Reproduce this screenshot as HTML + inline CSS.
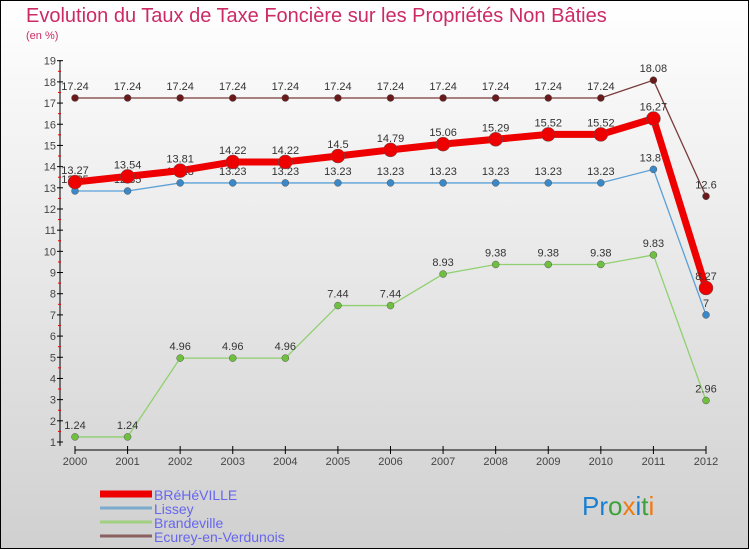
<!DOCTYPE html>
<html><head><meta charset="utf-8"><style>
body{margin:0;}
#c{width:750px;height:550px;position:relative;overflow:hidden;font-family:"Liberation Sans",sans-serif;}
</style></head><body>
<div id="c">
<svg id="s" width="750" height="550" xmlns="http://www.w3.org/2000/svg">
<defs><linearGradient id="bg" x1="0" y1="0" x2="0" y2="1"><stop offset="0" stop-color="#ffffff"/><stop offset="1" stop-color="#d0d0d0"/></linearGradient></defs>
<rect x="0.5" y="0.5" width="748" height="548" fill="url(#bg)" stroke="#000"/>
<text x="26" y="22" font-size="20" fill="#cc2a64">Evolution du Taux de Taxe Foncière sur les Propriétés Non Bâties</text>
<text x="26" y="39" font-size="11" fill="#cc2a64">(en %)</text>
<g id="axes"></g><g id="series"></g><g id="legend"></g>
<text x="582" y="515" font-size="26"><tspan fill="#1a7fd0">Pr</tspan><tspan fill="#3aa33a">o</tspan><tspan fill="#f07a10">x</tspan><tspan fill="#1a7fd0">i</tspan><tspan fill="#3aa33a">t</tspan><tspan fill="#f07a10">i</tspan></text>
</svg>
</div>
<script>
const years=[2000,2001,2002,2003,2004,2005,2006,2007,2008,2009,2010,2011,2012];
const yTicks=[1,2,3,4,5,6,7,8,9,10,11,12,13,14,15,16,17,18,19];
const seriesNames=["BRéHéVILLE","Lissey","Brandeville","Ecurey-en-Verdunois"];
const brehevilleVals=[13.27,13.54,13.81,14.22,14.22,14.5,14.79,15.06,15.29,15.52,15.52,16.27,8.27];
const lisseyVals=[12.85,12.85,13.23,13.23,13.23,13.23,13.23,13.23,13.23,13.23,13.23,13.87,7];
const brandevilleVals=[1.24,1.24,4.96,4.96,4.96,7.44,7.44,8.93,9.38,9.38,9.38,9.83,2.96];
const ecureyVals=[17.24,17.24,17.24,17.24,17.24,17.24,17.24,17.24,17.24,17.24,17.24,18.08,12.6];
const NS="http://www.w3.org/2000/svg";
const xS=i=>75+i*(706-75)/12;
const yS=v=>442-(v-1)*(442-60.7)/18;
function mk(t,a,p){const e=document.createElementNS(NS,t);for(const k in a)e.setAttribute(k,a[k]);p.appendChild(e);return e;}
const ax=document.getElementById('axes');
let l=mk('line',{x1:60,y1:60,x2:60,y2:446,stroke:'#000'},ax);


l=mk('line',{x1:75,y1:450,x2:706,y2:450,stroke:'#000'},ax);


yTicks.forEach(v=>{
 mk('line',{x1:57,x2:63,y1:yS(v),y2:yS(v),stroke:'#000'},ax);
 if(v<19)mk('line',{x1:58,x2:61,y1:yS(v+0.5),y2:yS(v+0.5),stroke:'#e00'},ax);
 const t=mk('text',{x:56,y:yS(v)+4,'font-size':11,'text-anchor':'end',fill:'#444'},ax);t.textContent=v;
 
 
});
years.forEach((y,i)=>{
 mk('line',{x1:xS(i),x2:xS(i),y1:446,y2:454,stroke:'#000'},ax);
 const t=mk('text',{x:xS(i),y:465,'font-size':11,'text-anchor':'middle',fill:'#444'},ax);t.textContent=y;
 
 
});
const sg=document.getElementById('series');
function draw(vals,color,w,r,name,dark){
 const g=mk('g',{},sg);
 
 
 const p=mk('polyline',{points:vals.map((v,i)=>xS(i)+','+yS(v)).join(' '),fill:'none',stroke:color,'stroke-width':w,'stroke-linejoin':'round'},g);
 
 
 vals.forEach((v,i)=>{
  const c=mk('circle',{cx:xS(i),cy:yS(v),r:r,fill:dark,stroke:'#555','stroke-width':0.5},g);
  
  
  const t=mk('text',{x:xS(i),y:yS(v)-8,'font-size':11,'text-anchor':'middle',fill:'#333'},g);t.textContent=v;
  
  
 });
}
draw(ecureyVals,'#7a3a3a',1.3,3.5,'ecurey','#6a1a1a');
draw(brandevilleVals,'#90d070',1.3,3.5,'brandeville','#70c040');
draw(lisseyVals,'#5aa0d8',1.3,3.5,'lissey','#3a88c8');
draw(brehevilleVals,'#ee0000',7,7,'breheville','#ee0000');
const lg=document.getElementById('legend');
const lcol=['#ee0000','#7aaacc','#a0d080','#8a6060'];
const lw=[7,3,3,3];
seriesNames.forEach((n,i)=>{
 const y=494+i*14;
 const ln=mk('line',{x1:100,x2:152,y1:y,y2:y,stroke:lcol[i],'stroke-width':lw[i]},lg);
 
 
 const t=mk('text',{x:154,y:y+6,'font-size':14,fill:'#6666ee'},lg);t.textContent=n;
 
 
});
</script>
</body></html>
